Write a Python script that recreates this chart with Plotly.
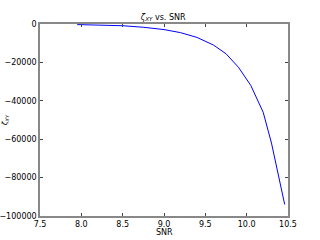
import plotly.graph_objects as go

# values
snr = [7.95, 8.2, 8.5, 8.75, 9.0, 9.2, 9.4, 9.6, 9.75, 9.9, 10.05, 10.2, 10.3, 10.46]
zeta = [-300, -500, -900, -1700, -2900, -4500, -7000, -11000, -15500, -22500,
        -32000, -46000, -62000, -94000]
x_ticks = [7.5, 8.0, 8.5, 9.0, 9.5, 10.0, 10.5]
y_ticks = [0, -20000, -40000, -60000, -80000, -100000]

fig = go.Figure()
fig.add_trace(go.Scatter(x=snr, y=zeta, mode="lines",
                         line=dict(color="#0000ff", width=1)))

axis_style = dict(showgrid=False, zeroline=False, showline=True, mirror="ticks",
                  linecolor="#888888", linewidth=1.5, ticks="inside", ticklen=3,
                  tickcolor="#444444", tickfont=dict(size=8, color="black"),
                  automargin=False)

fig.update_layout(
    width=320, height=240,
    margin=dict(l=40, r=32, t=24, b=24),
    paper_bgcolor="white", plot_bgcolor="white",
    font=dict(family="DejaVu Sans", color="black"),
    showlegend=False,
    title=dict(text="<i>ζ<sub>XY</sub></i> vs. SNR", x=0.51, xanchor="center",
               y=0.93, yanchor="middle", yref="container", font=dict(size=8),
               automargin=False),
)
fig.update_xaxes(range=[7.5, 10.5], tickvals=x_ticks,
                 ticktext=[f"{v:.1f}" for v in x_ticks], **axis_style)
fig.update_yaxes(range=[-100000, 0], tickvals=y_ticks,
                 ticktext=[str(v).replace("-", "−") for v in y_ticks], **axis_style)

# axis labels placed by hand, matplotlib style
fig.add_annotation(text="SNR", xref="paper", yref="paper", x=0.5, y=-0.088,
                   xanchor="center", yanchor="middle", showarrow=False,
                   font=dict(size=8))
fig.add_annotation(text="<i>ζ<sub>XY</sub></i>", xref="paper", yref="paper",
                   x=-0.14, y=0.5, xanchor="center", yanchor="middle",
                   textangle=-90, showarrow=False, font=dict(size=7))

# page has a default body margin; drop it so the figure sits at the corner
fig.write_html("out.html", config={"displayModeBar": False},
               post_script="document.body.style.margin='0';")
